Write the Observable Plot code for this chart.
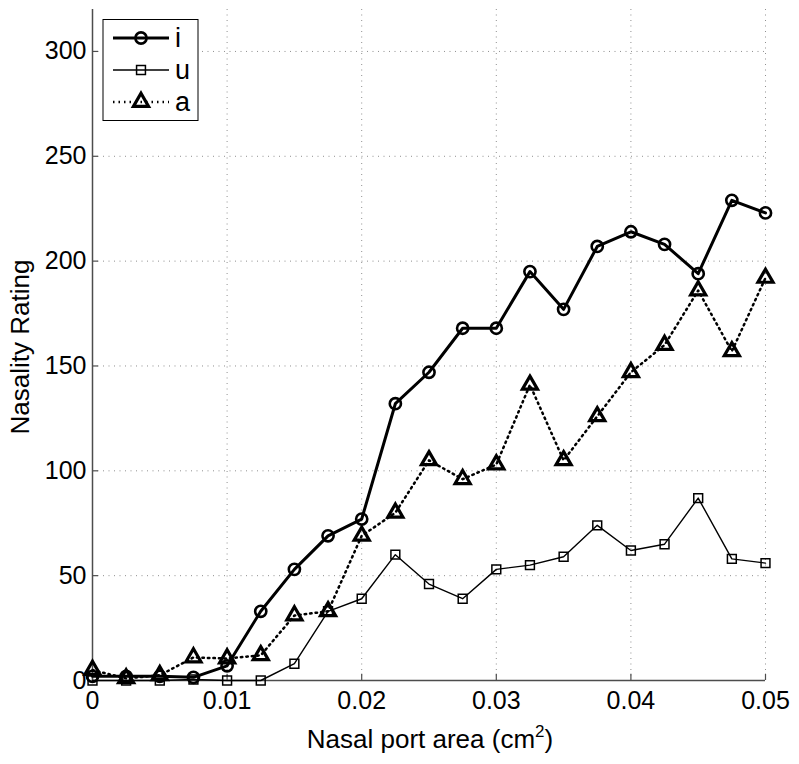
<!DOCTYPE html>
<html><head><meta charset="utf-8">
<script src="https://cdn.jsdelivr.net/npm/d3@7"></script>
<script src="https://cdn.jsdelivr.net/npm/@observablehq/plot@0.6"></script>
<style>
body{margin:0;background:#fff;}
#wrap{position:relative;width:799px;height:764px;}
#legend{position:absolute;left:0;top:0;}
</style>
</head><body><div id="wrap"></div><script>
// Data
const area = [0,0.0025,0.005,0.0075,0.01,0.0125,0.015,0.0175,0.02,0.0225,0.025,0.0275,0.03,0.0325,0.035,0.0375,0.04,0.0425,0.045,0.0475,0.05];
const seriesI = [2,2,2,1.5,7,33,53,69,77,132,147,168,168,195,177,207,214,208,194,229,223];
const seriesU = [0,0,0,0.5,0,0,8,33,39,60,46,39,53,55,59,74,62,65,87,58,56];
const seriesA = [5,1,2.5,11,10.5,12,31,33,69,80,105,96,103,141,105,126,147,160,186,157,192];
const seriesNames = ["i","u","a"];
const xTicks = [0,0.01,0.02,0.03,0.04,0.05];
const yTicks = [0,50,100,150,200,250,300];

const rowsI = area.map((x,k)=>({x, v: seriesI[k], s:"i"}));
const rowsU = area.map((x,k)=>({x, v: seriesU[k], s:"u"}));
const rowsA = area.map((x,k)=>({x, v: seriesA[k], s:"a"}));

const W = 799, H = 764, mL = 92, mR = 34, mT = 9, mB = 84;
const FONT = "'Liberation Sans', Arial, sans-serif";
const gridStyle = {stroke:"#8f8f8f", strokeOpacity: 1, strokeWidth:1, strokeDasharray:"1,4.5"};
const spine = "#4d4d4d";

const plot = Plot.plot({
  width: W, height: H,
  marginLeft: mL, marginRight: mR, marginTop: mT, marginBottom: mB,
  style: {fontFamily: FONT, fontSize: "25px", background: "#fff", color: "#000"},
  x: {domain: [0, 0.05]},
  y: {domain: [0, 320]},
  marks: [
    Plot.gridX(xTicks.slice(1), gridStyle),
    Plot.gridY(yTicks.slice(1), gridStyle),
    Plot.ruleY(yTicks, {y: d=>d, x1: 0, x2: 0.00045, stroke: spine, strokeWidth: 1.2}),
    Plot.ruleX(xTicks, {x: d=>d, y1: 0, y2: 3, stroke: spine, strokeWidth: 1.2}),
    Plot.ruleX([0], {stroke: spine, strokeWidth: 1.5}),
    Plot.ruleY([0], {x1: 0, x2: 0.05, stroke: spine, strokeWidth: 1.5}),
    Plot.axisX(xTicks, {tickSize: 0, tickPadding: 11, label: null, tickFormat: d => d === 0 ? "0" : d.toFixed(2)}),
    Plot.axisY(yTicks, {tickSize: 0, tickPadding: 6, label: null, tickFormat: d => String(d)}),
    Plot.line(rowsA, {x: "x", y: "v", stroke: "#000", strokeWidth: 2.5, strokeDasharray: "1.5,4"}),
    Plot.line(rowsU, {x: "x", y: "v", stroke: "#000", strokeWidth: 1.4}),
    Plot.line(rowsI, {x: "x", y: "v", stroke: "#000", strokeWidth: 3}),
    Plot.dot(rowsA, {x: "x", y: "v", symbol: "triangle", r: 5.6, stroke: "#000", strokeWidth: 3.2, fill: "none"}),
    Plot.dot(rowsU, {x: "x", y: "v", symbol: "square", r: 5.0, stroke: "#000", strokeWidth: 1.5, fill: "none"}),
    Plot.dot(rowsI, {x: "x", y: "v", symbol: "circle", r: 5.6, stroke: "#000", strokeWidth: 2.6, fill: "none"})
  ]
});

const wrap = document.getElementById("wrap");
wrap.appendChild(plot);

// Axis titles
const svg = d3.select(plot);
const xt = svg.append("text")
  .attr("x", 430).attr("y", 748)
  .attr("text-anchor", "middle")
  .style("font-family", FONT).style("font-size", "26px").attr("fill", "#000");
xt.append("tspan").text("Nasal port area (cm");
xt.append("tspan").attr("dy", -11).style("font-size", "17px").text("2");
xt.append("tspan").attr("dy", 11).text(")");

svg.append("text")
  .attr("transform", `translate(29,347) rotate(-90)`)
  .attr("text-anchor", "middle")
  .style("font-family", FONT).style("font-size", "26px").attr("fill", "#000")
  .text("Nasality Rating");

// Legend
const leg = d3.select(wrap).append("svg").attr("id", "legend").attr("width", W).attr("height", H);
leg.append("rect").attr("x", 103).attr("y", 19.5).attr("width", 95).attr("height", 101)
  .attr("fill", "#fff").attr("stroke", "#000").attr("stroke-width", 1);
const legStyles = [
  {w: 3, dash: null, sym: d3.symbolCircle, r: 5.6, sw: 2.6},
  {w: 1.4, dash: null, sym: d3.symbolSquare, r: 5.0, sw: 1.5},
  {w: 2.5, dash: "1.5,4", sym: d3.symbolTriangle, r: 5.6, sw: 3.2}
];
seriesNames.forEach((name, k) => {
  const y = 38 + k*32;
  const st = legStyles[k];
  leg.append("line").attr("x1", 113).attr("x2", 169).attr("y1", y).attr("y2", y)
    .attr("stroke", "#000").attr("stroke-width", st.w).attr("stroke-dasharray", st.dash);
  leg.append("path").attr("d", d3.symbol(st.sym, st.r*st.r*Math.PI)())
    .attr("transform", `translate(141,${y})`).attr("fill", "none").attr("stroke", "#000").attr("stroke-width", st.sw);
  leg.append("text").attr("x", 175).attr("y", y + 9)
    .style("font-family", FONT).style("font-size", "27px").attr("fill", "#000")
    .text(name);
});
</script></body></html>
